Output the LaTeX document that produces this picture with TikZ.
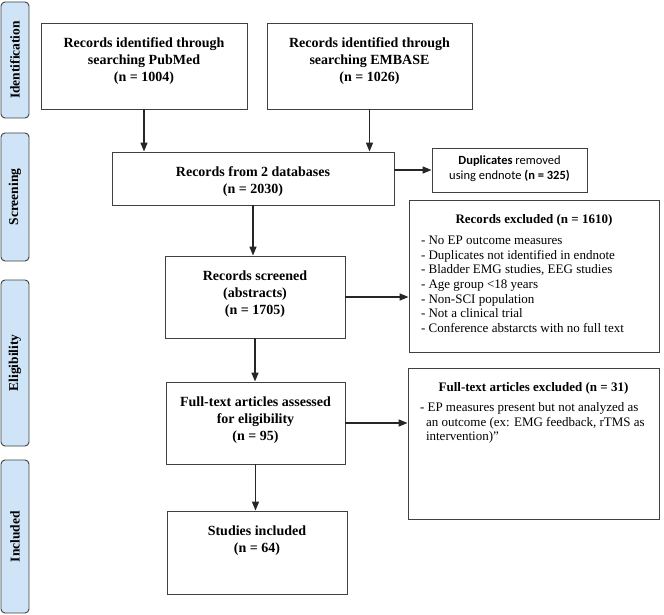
\documentclass[tikz,border=0pt]{standalone}
\usepackage{fontspec}
\setmainfont{Liberation Serif}
\newfontfamily\calibri{Carlito}
\usetikzlibrary{arrows.meta}
\definecolor{sidefill}{HTML}{CFE4F7}
\definecolor{edge}{HTML}{404040}
\newcommand{\stagetext}[3]{\parbox[c][#2][t]{#1}{\centering\vspace*{15pt}#3}}

\begin{document}
\begin{tikzpicture}[x=1pt,y=-1pt,
  side/.style={draw=edge,fill=sidefill,rounded corners=4pt,line width=0.9pt,rotate=90,minimum height=28pt,inner sep=0pt,font=\fontsize{13.5}{15}\selectfont\bfseries},
  box/.style={draw=edge,line width=0.9pt,inner sep=0pt,font=\fontsize{14}{17}\selectfont\bfseries},
  note/.style={draw=edge,line width=0.9pt,inner xsep=12pt,inner ysep=0pt,font=\fontsize{13}{14.6}\selectfont},
  arr/.style={-{Triangle[length=9pt,width=7pt]},line width=1.5pt,draw=black!85}]
\useasboundingbox (0,0) rectangle (664,615);
\node[side,minimum width=116pt] (idlab) at (15,60) {Identification};
\node[side,minimum width=128pt] (scrlab) at (15,197) {Screening};
\node[side,minimum width=166pt] (eliglab) at (15,363) {Eligibility};
\node[side,minimum width=153pt] (incllab) at (15,536.5) {Included};
\node[box] (pubmed) at (144,66) {\stagetext{206pt}{86pt}{Records identified through\\searching PubMed\\(n = 1004)}};
\node[box] (embase) at (369.5,66) {\stagetext{205pt}{86pt}{Records identified through\\searching EMBASE\\(n = 1026)}};
\node[box] (merged) at (253,178.5) {\stagetext{282pt}{53pt}{Records from 2 databases\\(n = 2030)}};
\node[box,font=\fontsize{12.5}{15.5}\selectfont\calibri] (dupl) at (509.5,170) {\parbox[c][44pt][t]{155pt}{\centering\vspace*{7.5pt}\textbf{Duplicates} removed\\using endnote \textbf{(n = 325)}}};
\node[box] (screened) at (255,297) {\stagetext{180pt}{82pt}{Records screened\\(abstracts)\\(n = 1705)}};
\node[note] (excluded) at (534,276) {\parbox[c][152pt][t]{226pt}{\vspace*{14pt}{\centering\bfseries Records excluded (n = 1610)\par}\vspace{7pt}\raggedright
  - No EP outcome measures\\
  - Duplicates not identified in endnote\\
  - Bladder EMG studies, EEG studies\\
  - Age group <18 years\\
  - Non-SCI population\\
  - Not a clinical trial\\
  - Conference abstarcts with no full text}};
\node[box] (fulltext) at (255.5,423) {\stagetext{179pt}{82pt}{Full-text articles assessed\\for eligibility\\(n = 95)}};
\node[note] (ftexcl) at (533.5,443.5) {\parbox[c][151pt][t]{227pt}{\vspace*{14pt}{\centering\bfseries Full-text articles excluded (n = 31)\par}\vspace{6pt}\raggedright
  - EP measures present but not analyzed as\\
  \hspace*{6pt}an outcome (ex: EMG feedback, rTMS as\\
  \hspace*{6pt}intervention)”}};
\node[box] (included) at (257,552.5) {\stagetext{180pt}{83pt}{Studies included\\(n = 64)}};
\draw[arr] (pubmed.south) -- (pubmed.south |- merged.north);
\draw[arr] (embase.south) -- (embase.south |- merged.north);
\draw[arr] (merged.east |- dupl.west) -- (dupl.west);
\draw[arr] (merged.south) -- (merged.south |- screened.north);
\draw[arr] (screened.east) -- (screened.east -| excluded.west);
\draw[arr] (screened.south) -- (screened.south |- fulltext.north);
\draw[arr] (fulltext.east) -- (fulltext.east -| ftexcl.west);
\draw[arr] (fulltext.south) -- (fulltext.south |- included.north);
\end{tikzpicture}
\end{document}
